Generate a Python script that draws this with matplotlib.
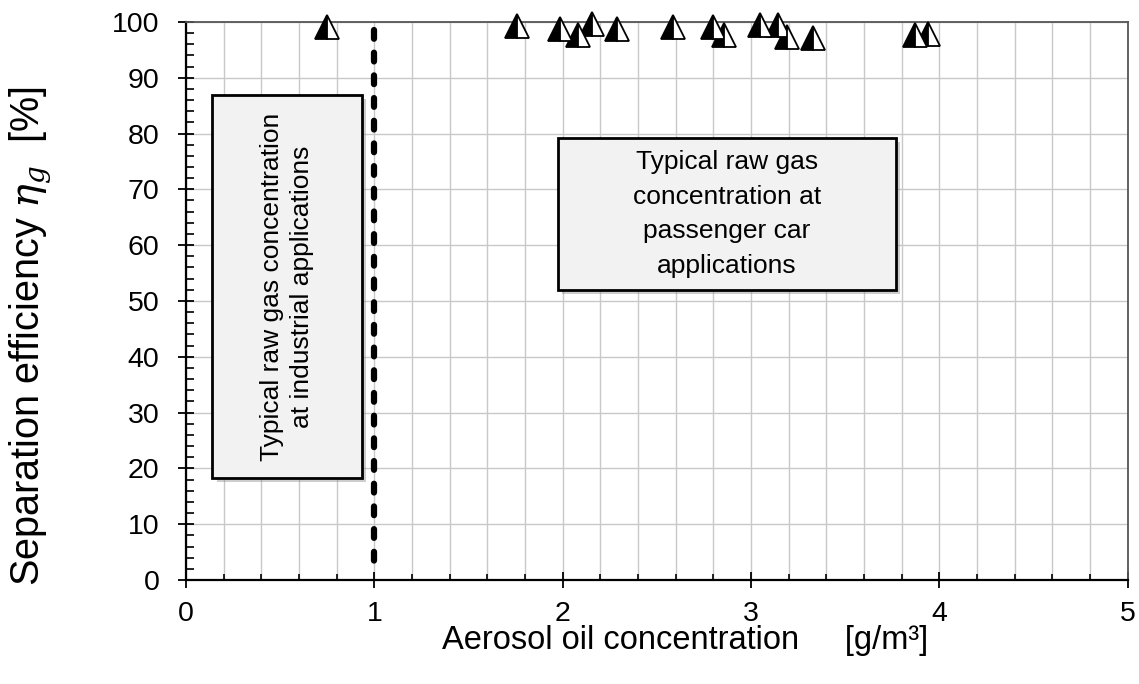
import numpy as np
import matplotlib.pyplot as plt
import matplotlib.patheffects as pe
from matplotlib.patches import Rectangle
from matplotlib.ticker import MultipleLocator

plt.rcParams['font.family'] = ['Liberation Sans', 'DejaVu Sans']
plt.rcParams['mathtext.fontset'] = 'dejavuserif'

# measured points: aerosol oil concentration [g/m3] vs separation efficiency [%]
conc = [0.75, 1.76, 1.985, 2.08, 2.155, 2.29, 2.585, 2.80, 2.855,
        3.05, 3.145, 3.19, 3.33, 3.87, 3.94]
eff = [99.1, 99.2, 98.7, 97.6, 99.6, 98.8, 99.0, 99.1, 97.7,
       99.5, 99.5, 97.3, 97.1, 97.7, 97.8]

x_ticks = [0, 1, 2, 3, 4, 5]
y_ticks = [0, 10, 20, 30, 40, 50, 60, 70, 80, 90, 100]

industrial_limit = 1.0
box_industrial = (0.14, 18.3, 0.795, 68.6)   # x, y, width, height (data units)
box_passenger = (1.975, 52.0, 1.795, 27.2)

fig = plt.figure(figsize=(11.39, 6.84), dpi=100)
ax = fig.add_axes([0.1633, 0.152, 0.8267, 0.816])

ax.set_xlim(0, 5)
ax.set_ylim(0, 100)
ax.set_xticks(x_ticks)
ax.set_yticks(y_ticks)
ax.xaxis.set_minor_locator(MultipleLocator(0.2))
ax.yaxis.set_minor_locator(MultipleLocator(2))

# grid: every 0.2 on x, every 10 on y
ax.grid(True, which='minor', axis='x', color='#c8c8c8', lw=1.0, zorder=0)
ax.grid(True, which='major', axis='both', color='#c8c8c8', lw=1.0, zorder=0)
ax.set_axisbelow(True)

for s in ['left', 'bottom']:
    ax.spines[s].set_color('black')
    ax.spines[s].set_linewidth(1.6)
for s in ['top', 'right']:
    ax.spines[s].set_color('#555555')
    ax.spines[s].set_linewidth(1.3)

ax.tick_params(which='major', direction='inout', length=12, width=1.3,
               labelsize=20.5)
ax.tick_params(axis='x', which='major', pad=9)
ax.tick_params(axis='y', which='major', pad=13)
ax.tick_params(axis='y', which='minor', direction='in', length=5.5, width=1.2)
ax.tick_params(axis='x', which='minor', direction='in', length=4, width=1.2)

# shaded annotation boxes
shadow = [pe.SimplePatchShadow(offset=(3, -3), shadow_rgbFace='#909090', alpha=0.45),
          pe.Normal()]
for bx, by, bw, bh in [box_industrial, box_passenger]:
    r = Rectangle((bx, by), bw, bh, facecolor='#f2f2f2', edgecolor='black',
                  lw=2, zorder=3)
    r.set_path_effects(shadow)
    ax.add_patch(r)

ax.text(box_industrial[0] + box_industrial[2] / 2, box_industrial[1] + box_industrial[3] / 2,
        'Typical raw gas concentration\nat industrial applications',
        rotation=90, ha='center', va='center', fontsize=19, zorder=4,
        linespacing=1.3)
ax.text(box_passenger[0] + box_passenger[2] / 2, box_passenger[1] + box_passenger[3] / 2,
        'Typical raw gas\nconcentration at\npassenger car\napplications',
        ha='center', va='center', fontsize=19, zorder=4, linespacing=1.55)

# dashed line at the industrial limit
ax.plot([industrial_limit, industrial_limit], [98.5, 2.5], color='black', lw=4.5,
        linestyle=(0, (1.4, 2.23)), dash_capstyle='round', zorder=5)

# half-filled triangles
ax.plot(conc, eff, linestyle='none', marker='^', markersize=17,
        fillstyle='left', markerfacecolor='black', markerfacecoloralt='white',
        markeredgecolor='black', markeredgewidth=1.3, clip_on=False, zorder=6)

fig.text(685 / 1139, 1 - 640 / 684, 'Aerosol oil concentration     [g/m³]',
         fontsize=23.5, ha='center', va='center')
fig.text(30 / 1139, 1 - 336 / 684, r'Separation efficiency $\eta_g$  [%]',
         fontsize=28.5, ha='center', va='center', rotation=90)

fig.savefig('out.png', dpi=100)
